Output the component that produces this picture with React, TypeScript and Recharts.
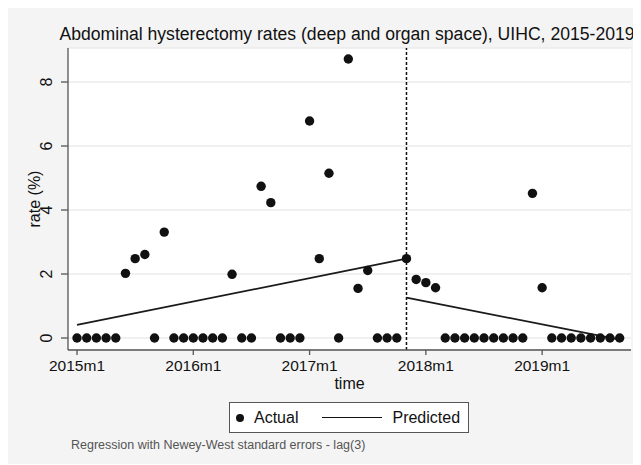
import { ComposedChart, Scatter, Line, XAxis, YAxis, CartesianGrid, ReferenceLine, Legend } from 'recharts';

const FONT = '"Liberation Sans", Arial, Helvetica, sans-serif';

// monthly rate (%), 2015m1 .. 2019m9
const actualRates = [
  0, 0, 0, 0, 0, 2.02, 2.48, 2.61, 0, 3.31, 0, 0,
  0, 0, 0, 0, 1.99, 0, 0, 4.74, 4.23, 0, 0, 0,
  6.78, 2.48, 5.15, 0, 8.72, 1.55, 2.11, 0, 0, 0, 2.48, 1.83,
  1.73, 1.57, 0, 0, 0, 0, 0, 0, 0, 0, 0, 4.52,
  1.57, 0, 0, 0, 0, 0, 0, 0, 0,
];

// regression segments (month index, predicted rate)
const predBeforeMonths = [0, 34];
const predBeforeValues = [0.41, 2.48];
const predAfterMonths = [34, 56];
const predAfterValues = [1.26, -0.05];

const interventionMonth = 34;
const yearTicks = [0, 12, 24, 36, 48];
const yearLabels = ['2015m1', '2016m1', '2017m1', '2018m1', '2019m1'];
const rateTicks = [0, 2, 4, 6, 8];

const actualData = actualRates.map((rate, t) => ({ t, rate }));
const beforeData = predBeforeMonths.map((t, i) => ({ t, pred: predBeforeValues[i] }));
const afterData = predAfterMonths.map((t, i) => ({ t, pred: predAfterValues[i] }));

const XTick = ({ x, y, payload }: any) => (
  <text x={x} y={y} dy="0.71em" textAnchor="middle" fontSize={15.5} fill="#111" fontFamily={FONT}>
    {yearLabels[yearTicks.indexOf(payload.value)]}
  </text>
);

const YTick = ({ x, y, payload }: any) => (
  <text x={x} y={y} transform={`rotate(-90 ${x} ${y})`} textAnchor="middle" fontSize={16} fill="#111" fontFamily={FONT}>
    {payload.value}
  </text>
);

const YTitle = ({ viewBox }: any) => {
  const cx = viewBox.x + 32;
  const cy = viewBox.y + viewBox.height / 2;
  return (
    <text x={cx} y={cy} transform={`rotate(-90 ${cx} ${cy})`} textAnchor="middle" fontSize={16} fill="#111" fontFamily={FONT}>
      rate (%)
    </text>
  );
};

const XTitle = ({ viewBox }: any) => (
  <text x={viewBox.x + viewBox.width / 2} y={viewBox.y + 39} textAnchor="middle" fontSize={16} fill="#111" fontFamily={FONT}>
    time
  </text>
);

const Dot = ({ cx, cy }: any) => <circle cx={cx} cy={cy} r={4.7} fill="#111" />;

const LegendBox = () => (
  <div
    style={{
      width: 240,
      height: 31,
      boxSizing: 'border-box',
      background: '#fff',
      border: '1px solid #555',
      display: 'flex',
      alignItems: 'center',
      paddingLeft: 6,
      fontFamily: FONT,
      fontSize: 16,
      color: '#111',
    }}
  >
    <span style={{ width: 8, height: 8, borderRadius: 4, background: '#111', display: 'inline-block' }} />
    <span style={{ marginLeft: 10 }}>Actual</span>
    <span style={{ marginLeft: 24, width: 60, height: 0, borderTop: '1.6px solid #111', display: 'inline-block' }} />
    <span style={{ marginLeft: 10 }}>Predicted</span>
  </div>
);

export default function App() {
  return (
    <div style={{ position: 'relative', width: 633, height: 456, background: '#f4f4f4', fontFamily: FONT }}>
      <div
        style={{
          position: 'absolute',
          left: 339,
          top: 18,
          transform: 'translateX(-50%)',
          whiteSpace: 'nowrap',
          fontSize: 17.6,
          lineHeight: 1,
          color: '#111',
        }}
      >
        Abdominal hysterectomy rates (deep and organ space), UIHC, 2015-2019
      </div>

      <ComposedChart width={633} height={456} margin={{ top: 40, right: 10, bottom: 84, left: 0 }}>
        <CartesianGrid vertical={false} fill="#fff" stroke="#ebebeb" strokeWidth={1.3} />
        <XAxis
          type="number"
          dataKey="t"
          domain={[-0.93, 57.17]}
          allowDataOverflow
          ticks={yearTicks}
          tick={<XTick />}
          tickSize={5}
          tickMargin={5}
          height={30}
          stroke="#555"
          strokeWidth={1.3}
          label={<XTitle />}
        />
        <YAxis
          type="number"
          domain={[-0.375, 9.0625]}
          allowDataOverflow
          ticks={rateTicks}
          tick={<YTick />}
          tickSize={7}
          tickMargin={9}
          width={60}
          stroke="#555"
          strokeWidth={1.3}
          label={<YTitle />}
        />
        <ReferenceLine x={interventionMonth} stroke="#111" strokeWidth={1.5} strokeDasharray="3 2" />
        <Line data={beforeData} dataKey="pred" stroke="#1a1a1a" strokeWidth={1.7} dot={false} isAnimationActive={false} legendType="line" />
        <Line data={afterData} dataKey="pred" stroke="#1a1a1a" strokeWidth={1.7} dot={false} isAnimationActive={false} legendType="none" />
        <Scatter data={actualData} dataKey="rate" shape={<Dot />} isAnimationActive={false} />
        <Legend
          layout="vertical"
          align="center"
          verticalAlign="middle"
          content={<LegendBox />}
          wrapperStyle={{ left: 221, top: 394, width: 240, height: 31 }}
        />
      </ComposedChart>

      <div style={{ position: 'absolute', left: 63, top: 431, fontSize: 12.5, lineHeight: 1, color: '#555', whiteSpace: 'nowrap' }}>
        Regression with Newey-West standard errors - lag(3)
      </div>
    </div>
  );
}
